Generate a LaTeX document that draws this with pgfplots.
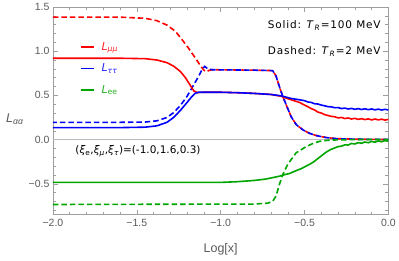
\documentclass[border=0pt]{standalone}
\usepackage{pgfplots}
\pgfplotsset{compat=1.18}
\usepackage{fontspec}
\setmainfont{Liberation Sans}
\newfontfamily\dejavu{DejaVu Sans}
\newfontfamily\dejavuls[LetterSpace=8]{DejaVu Sans}
\definecolor{mgreen}{rgb}{0,0.65,0}
\definecolor{axgray}{gray}{0.62}
\definecolor{lblgray}{gray}{0.35}
\begin{document}
\begin{tikzpicture}
\begin{axis}[
  scale only axis, width=336pt, height=208pt,
  xmin=-2, xmax=0, ymin=-0.85, ymax=1.5,
  axis line style={axgray},
  every tick/.style={axgray},
  major tick length=5pt, minor tick length=3pt,
  xtick={-2,-1.5,-1,-0.5,0},
  xticklabels={−2.0,−1.5,−1.0,−0.5,0.0},
  minor xtick={-1.9,-1.8,-1.7,-1.6,-1.4,-1.3,-1.2,-1.1,-0.9,-0.8,-0.7,-0.6,-0.4,-0.3,-0.2,-0.1},
  ytick={-0.5,0,0.5,1,1.5},
  yticklabels={−0.5,0.0,0.5,1.0,1.5},
  minor ytick={-0.8,-0.7,-0.6,-0.4,-0.3,-0.2,-0.1,0.1,0.2,0.3,0.4,0.6,0.7,0.8,0.9,1.1,1.2,1.3,1.4},
  tick label style={font=\fontsize{10.5}{12}\selectfont, text=lblgray},
  xticklabel style={yshift=-1pt},
  xlabel={Log[x]},
  xlabel style={font=\fontsize{12.5}{14}\selectfont, text=lblgray, at={(axis description cs:0.5,-0.168)}, anchor=center},
  ylabel={\textit{L}\textsubscript{\textit{αα}}},
  ylabel style={font=\fontsize{12.5}{14}\selectfont, text=lblgray, rotate=-90, at={(axis description cs:-0.113,0.46)}, anchor=center},
  legend style={at={(rel axis cs:0.072,0.85)}, anchor=north west, draw=none, fill=none,
     font=\dejavu\fontsize{11}{13}\selectfont, row sep=8pt,
     /tikz/every odd column/.append style={column sep=5pt}},
  legend cell align=left,
  legend image code/.code={\draw[#1] (0pt,0pt) -- (13pt,0pt);},
]
\addplot[gray!55, line width=0.6pt, forget plot] coordinates {(-2,0) (0,0)};

% ---- dashed, T_R = 2 MeV ----
\addplot[red, line width=1.6pt, dash pattern=on 5.5pt off 3pt, forget plot] coordinates {
(-2,1.385) (-1.6,1.385) (-1.45,1.372) (-1.38,1.345) (-1.32,1.295) (-1.27,1.225) (-1.23,1.13)
(-1.19,1.03) (-1.15,0.92) (-1.12,0.835) (-1.10,0.785) (-1.085,0.768) (-1.07,0.782) (-1.05,0.79)
(-0.8,0.785) (-0.69,0.78) (-0.67,0.72) (-0.65,0.60) (-0.63,0.49) (-0.60,0.35) (-0.58,0.26)
(-0.55,0.17) (-0.51,0.11) (-0.47,0.07) (-0.43,0.045) (-0.37,0.022) (-0.31,0.01) (-0.2,0.004) (0,0.0)};
\addplot[blue, line width=1.6pt, dash pattern=on 5.5pt off 3pt, dash phase=1.5pt, forget plot] coordinates {
(-2,0.195) (-1.6,0.195) (-1.45,0.198) (-1.38,0.212) (-1.32,0.25) (-1.28,0.305) (-1.24,0.385)
(-1.2,0.49) (-1.16,0.62) (-1.13,0.72) (-1.11,0.795) (-1.095,0.828) (-1.08,0.805) (-1.05,0.79)
(-0.8,0.785) (-0.69,0.78) (-0.67,0.72) (-0.65,0.60) (-0.63,0.49) (-0.60,0.35) (-0.58,0.26)
(-0.55,0.17) (-0.51,0.11) (-0.47,0.07) (-0.43,0.045) (-0.37,0.022) (-0.31,0.01) (-0.2,0.004) (0,0.0)};
\addplot[mgreen, line width=1.6pt, dash pattern=on 5.5pt off 3pt, forget plot] coordinates {
(-2,-0.735) (-0.8,-0.73) (-0.72,-0.72) (-0.69,-0.70) (-0.67,-0.64) (-0.65,-0.51) (-0.63,-0.40)
(-0.60,-0.28) (-0.55,-0.15) (-0.49,-0.08) (-0.45,-0.045) (-0.41,-0.02) (-0.35,-0.006) (-0.2,0.0) (0,0.0)};

% ---- solid, T_R = 100 MeV ----
\addplot[red, line width=1.6pt, forget plot] coordinates {
(-2,0.92) (-1.6,0.92) (-1.45,0.915) (-1.38,0.90) (-1.32,0.87) (-1.28,0.83) (-1.24,0.77)
(-1.21,0.70) (-1.18,0.61) (-1.16,0.55) (-1.14,0.532) (-1.1,0.535) (-1.0,0.535) (-0.9,0.53)
(-0.8,0.522) (-0.7,0.51) (-0.64,0.49) (-0.58,0.45) (-0.53,0.42)
(-0.50,0.39) (-0.48,0.372) (-0.46,0.35) (-0.44,0.335) (-0.42,0.31) (-0.40,0.30) (-0.38,0.282)
(-0.36,0.272) (-0.34,0.262) (-0.32,0.258) (-0.30,0.245) (-0.28,0.250) (-0.26,0.238) (-0.24,0.244)
(-0.22,0.232) (-0.20,0.240) (-0.18,0.228) (-0.16,0.236) (-0.14,0.226) (-0.12,0.234) (-0.10,0.222)
(-0.08,0.232) (-0.06,0.222) (-0.04,0.230) (-0.02,0.220) (0,0.228)};
\addplot[blue, line width=1.6pt, forget plot] coordinates {
(-2,0.135) (-1.6,0.135) (-1.45,0.14) (-1.38,0.155) (-1.32,0.195) (-1.28,0.25) (-1.24,0.33)
(-1.2,0.42) (-1.17,0.49) (-1.15,0.525) (-1.13,0.535) (-1.1,0.535) (-1.0,0.535) (-0.9,0.53)
(-0.8,0.522) (-0.7,0.51) (-0.64,0.495) (-0.58,0.465) (-0.53,0.45)
(-0.50,0.44) (-0.48,0.425) (-0.46,0.42) (-0.44,0.405) (-0.42,0.402) (-0.40,0.39) (-0.38,0.382)
(-0.36,0.372) (-0.34,0.37) (-0.32,0.36) (-0.30,0.362) (-0.28,0.350) (-0.26,0.356) (-0.24,0.346)
(-0.22,0.352) (-0.20,0.342) (-0.18,0.350) (-0.16,0.340) (-0.14,0.348) (-0.12,0.338) (-0.10,0.346)
(-0.08,0.336) (-0.06,0.344) (-0.04,0.334) (-0.02,0.342) (0,0.334)};
\addplot[mgreen, line width=1.6pt, forget plot] coordinates {
(-2,-0.485) (-1.0,-0.485) (-0.9,-0.477) (-0.8,-0.463) (-0.73,-0.447) (-0.65,-0.415) (-0.61,-0.393)
(-0.59,-0.385) (-0.55,-0.352) (-0.52,-0.33)
(-0.50,-0.31) (-0.48,-0.29) (-0.46,-0.27) (-0.44,-0.245) (-0.42,-0.215) (-0.40,-0.185) (-0.38,-0.155)
(-0.36,-0.13) (-0.34,-0.11) (-0.32,-0.095) (-0.30,-0.08) (-0.28,-0.075) (-0.26,-0.06) (-0.24,-0.062)
(-0.22,-0.045) (-0.20,-0.05) (-0.18,-0.035) (-0.16,-0.042) (-0.14,-0.028) (-0.12,-0.036) (-0.10,-0.022)
(-0.08,-0.03) (-0.06,-0.016) (-0.04,-0.025) (-0.02,-0.012) (0,-0.02)};

\addlegendimage{red, line width=1.3pt}
\addlegendentry{\textcolor{red!85}{\textit{L}\textsubscript{\textit{μμ}}}}
\addlegendimage{blue, line width=1.3pt}
\addlegendentry{\textcolor{blue!85}{\textit{L}\textsubscript{\textit{ττ}}}}
\addlegendimage{mgreen, line width=1.3pt}
\addlegendentry{\textcolor{mgreen!85}{\textit{L}\textsubscript{ee}}}

\node[anchor=east, font=\dejavuls\fontsize{10.5}{12}\selectfont, inner xsep=0pt] at (axis cs:-0.045,1.287) {Solid: \textit{T}\textsubscript{\textit{R}}=100 MeV};
\node[anchor=east, font=\dejavuls\fontsize{10.5}{12}\selectfont, inner xsep=0pt] at (axis cs:-0.045,0.995) {Dashed: \textit{T}\textsubscript{\textit{R}}=2 MeV};
\node[anchor=west, font=\dejavu\fontsize{10.5}{12}\selectfont, inner xsep=0pt] at (axis cs:-1.867,-0.135) {(\textit{ξ}\textsubscript{e},\textit{ξ}\textsubscript{\textit{μ}},\textit{ξ}\textsubscript{\textit{τ}})=(-1.0,1.6,0.3)};
\coordinate (SW) at (rel axis cs:0,0);
\coordinate (NE) at (rel axis cs:1,1);
\end{axis}
\path ([shift={(-53pt,-46pt)}]SW) rectangle ([shift={(10pt,7pt)}]NE);
\end{tikzpicture}
\end{document}
